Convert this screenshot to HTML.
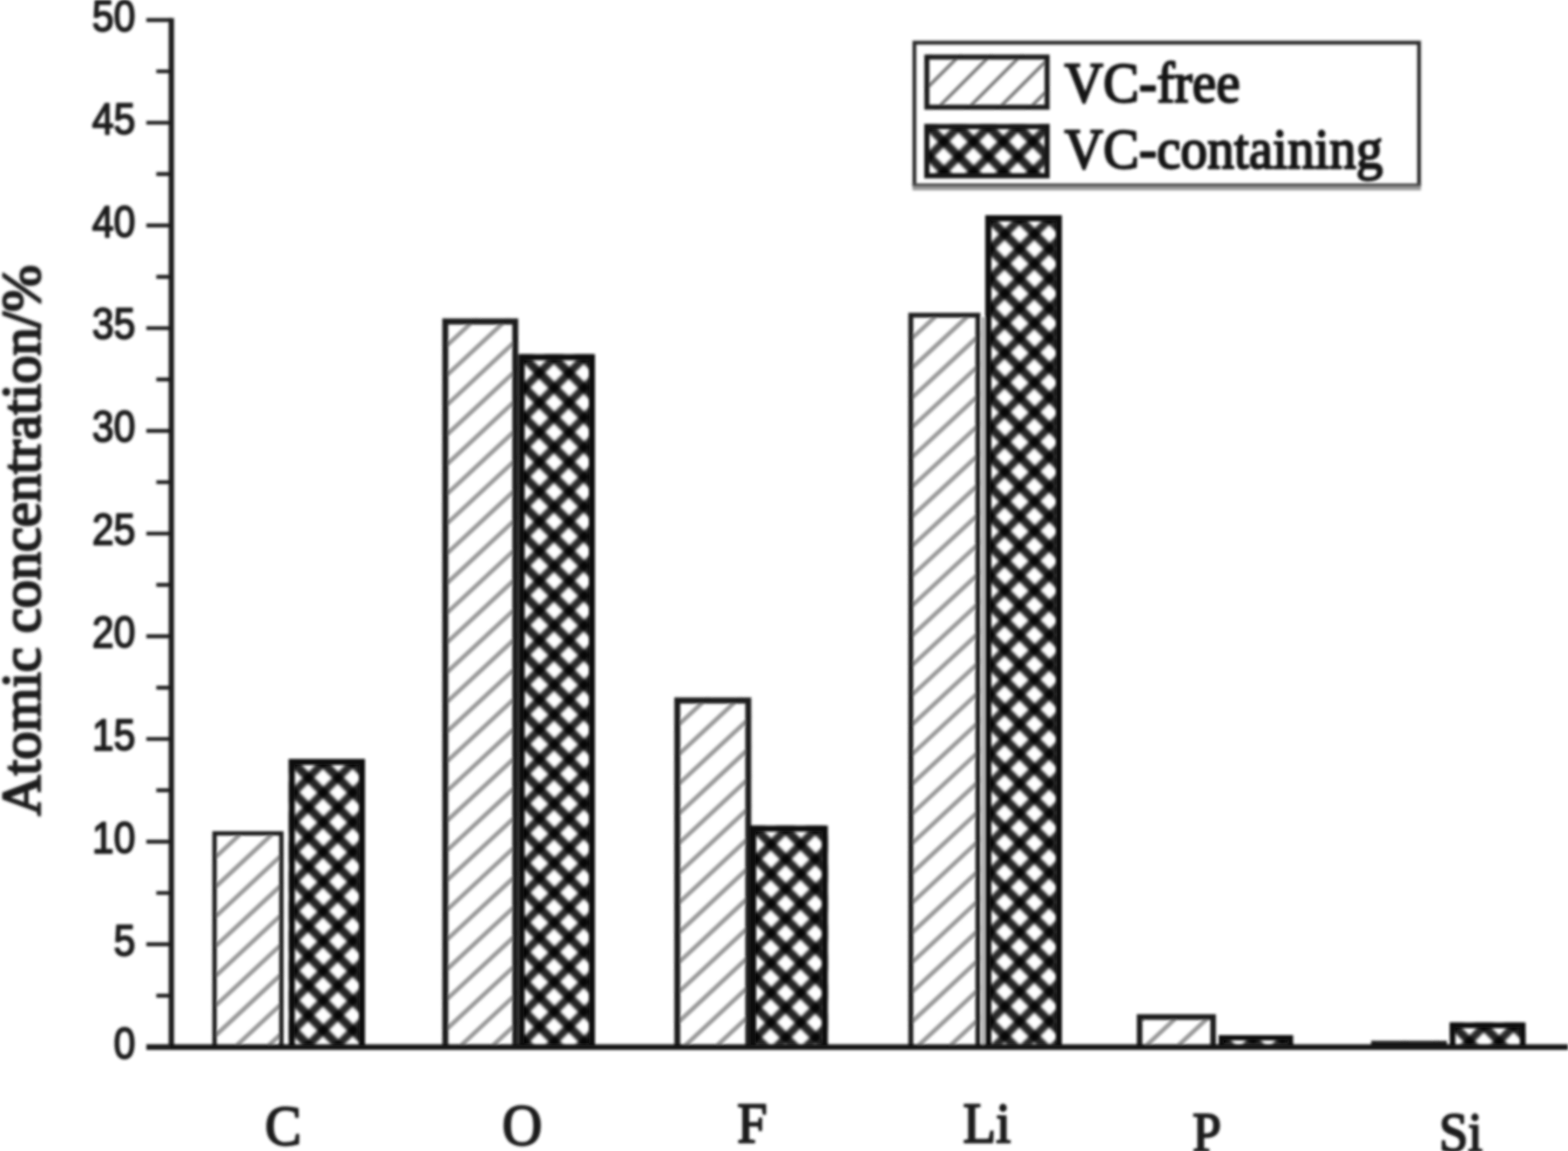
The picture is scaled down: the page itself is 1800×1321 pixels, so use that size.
<!DOCTYPE html>
<html lang="en"><head><meta charset="utf-8"><title>Atomic concentration</title>
<style>
html,body{margin:0;padding:0;background:#fff;}
body{width:1800px;height:1321px;overflow:hidden;}
svg{display:block;}
.sans{font-family:"Liberation Sans",Arial,Helvetica,sans-serif;}
.serif{font-family:"Liberation Serif","Times New Roman",Times,serif;}
</style></head><body>
<svg width="1800" height="1321" viewBox="0 0 1800 1321">
<defs><filter id="bl" x="-5%" y="-5%" width="110%" height="110%"><feGaussianBlur stdDeviation="1.8"/></filter><filter id="bx" x="-20%" y="-20%" width="140%" height="140%"><feGaussianBlur stdDeviation="1.3"/></filter></defs>
<rect x="0" y="0" width="1800" height="1321" fill="#fff"/>
<g filter="url(#bl)">
<path d="M1128.6 364L1128.6 1201.7" stroke="#a6a6a6" stroke-width="3.2" fill="none"/>
<clipPath id="c0"><rect x="243.8" y="954.0" width="81.7" height="247.7"/></clipPath>
<g clip-path="url(#c0)">
<path d="M238.8 957.6L330.5 872.4M238.8 991.8L330.5 906.5M238.8 1025.9L330.5 940.6M238.8 1060.0L330.5 974.7M238.8 1094.1L330.5 1008.8M238.8 1128.2L330.5 1042.9M238.8 1162.2L330.5 1077.0M238.8 1196.4L330.5 1111.1M238.8 1230.5L330.5 1145.2M238.8 1264.6L330.5 1179.3M238.8 1298.7L330.5 1213.4" stroke="#9a9a9a" stroke-width="5.0" fill="none"/>
</g>
<path d="M246.3 1201.7L246.3 956.5L323.0 956.5L323.0 1201.7" fill="none" stroke="#1c1c1c" stroke-width="5.0" stroke-linejoin="miter"/>
<clipPath id="c1"><rect x="331.5" y="871.1" width="87.5" height="330.6"/></clipPath>
<g clip-path="url(#c1)">
<g filter="url(#bx)"><path d="M326.5 817.8L424.0 720.2M326.5 851.9L424.0 754.4M326.5 886.0L424.0 788.5M326.5 920.1L424.0 822.6M326.5 954.1L424.0 856.6M326.5 988.2L424.0 890.8M326.5 1022.4L424.0 924.9M326.5 1056.5L424.0 959.0M326.5 1090.5L424.0 993.0M326.5 1124.7L424.0 1027.2M326.5 1158.8L424.0 1061.2M326.5 1192.8L424.0 1095.3M326.5 1227.0L424.0 1129.5M326.5 1261.1L424.0 1163.6M326.5 1295.2L424.0 1197.7" stroke="#000" stroke-opacity="0.84" stroke-width="9.0" fill="none"/>
<path d="M326.5 1274.4L424.0 1371.9M326.5 1240.2L424.0 1337.8M326.5 1206.2L424.0 1303.7M326.5 1172.0L424.0 1269.5M326.5 1138.0L424.0 1235.5M326.5 1103.8L424.0 1201.3M326.5 1069.8L424.0 1167.2M326.5 1035.7L424.0 1133.2M326.5 1001.5L424.0 1099.0M326.5 967.5L424.0 1065.0M326.5 933.4L424.0 1030.8M326.5 899.2L424.0 996.8M326.5 865.1L424.0 962.6M326.5 831.1L424.0 928.6M326.5 797.0L424.0 894.5M326.5 762.9L424.0 860.4" stroke="#000" stroke-opacity="0.86" stroke-width="9.8" fill="none"/></g>
</g>
<path d="M335.0 1201.7L335.0 874.6L415.5 874.6L415.5 1201.7" fill="none" stroke="#111" stroke-width="7.0" stroke-linejoin="miter"/>
<clipPath id="c2"><rect x="507.8" y="365.6" width="87.1" height="836.1"/></clipPath>
<g clip-path="url(#c2)">
<path d="M502.8 371.9L599.9 281.6M502.8 406.1L599.9 315.7M502.8 440.1L599.9 349.8M502.8 474.2L599.9 383.9M502.8 508.4L599.9 418.0M502.8 542.4L599.9 452.1M502.8 576.5L599.9 486.2M502.8 610.6L599.9 520.3M502.8 644.8L599.9 554.4M502.8 678.9L599.9 588.5M502.8 713.0L599.9 622.6M502.8 747.1L599.9 656.7M502.8 781.2L599.9 690.8M502.8 815.3L599.9 724.9M502.8 849.4L599.9 759.0M502.8 883.5L599.9 793.1M502.8 917.6L599.9 827.2M502.8 951.7L599.9 861.3M502.8 985.8L599.9 895.4M502.8 1019.9L599.9 929.5M502.8 1054.0L599.9 963.6M502.8 1088.1L599.9 997.7M502.8 1122.2L599.9 1031.8M502.8 1156.3L599.9 1065.9M502.8 1190.4L599.9 1100.0M502.8 1224.5L599.9 1134.1M502.8 1258.6L599.9 1168.2M502.8 1292.7L599.9 1202.3M502.8 1326.8L599.9 1236.4" stroke="#9a9a9a" stroke-width="5.0" fill="none"/>
</g>
<path d="M511.2 1201.7L511.2 369.0L591.5 369.0L591.5 1201.7" fill="none" stroke="#1c1c1c" stroke-width="6.8" stroke-linejoin="miter"/>
<clipPath id="c3"><rect x="596.7" y="406.5" width="86.3" height="795.2"/></clipPath>
<g clip-path="url(#c3)">
<g filter="url(#bx)"><path d="M591.7 353.1L688.0 256.9M591.7 387.2L688.0 291.0M591.7 421.4L688.0 325.1M591.7 455.4L688.0 359.2M591.7 489.6L688.0 393.3M591.7 523.6L688.0 427.4M591.7 557.8L688.0 461.5M591.7 591.9L688.0 495.6M591.7 626.0L688.0 529.7M591.7 660.0L688.0 563.8M591.7 694.1L688.0 597.9M591.7 728.2L688.0 632.0M591.7 762.4L688.0 666.1M591.7 796.5L688.0 700.2M591.7 830.6L688.0 734.3M591.7 864.7L688.0 768.4M591.7 898.8L688.0 802.5M591.7 932.9L688.0 836.6M591.7 967.0L688.0 870.7M591.7 1001.1L688.0 904.8M591.7 1035.2L688.0 938.9M591.7 1069.3L688.0 973.0M591.7 1103.4L688.0 1007.1M591.7 1137.5L688.0 1041.2M591.7 1171.6L688.0 1075.3M591.7 1205.7L688.0 1109.4M591.7 1239.8L688.0 1143.5M591.7 1273.9L688.0 1177.6M591.7 1308.0L688.0 1211.7" stroke="#000" stroke-opacity="0.84" stroke-width="9.0" fill="none"/>
<path d="M591.7 1287.2L688.0 1383.4M591.7 1253.0L688.0 1349.3M591.7 1218.9L688.0 1315.2M591.7 1184.8L688.0 1281.1M591.7 1150.8L688.0 1247.0M591.7 1116.6L688.0 1212.9M591.7 1082.5L688.0 1178.8M591.7 1048.4L688.0 1144.7M591.7 1014.3L688.0 1110.6M591.7 980.2L688.0 1076.5M591.7 946.1L688.0 1042.4M591.7 912.0L688.0 1008.3M591.7 877.9L688.0 974.2M591.7 843.8L688.0 940.1M591.7 809.7L688.0 906.0M591.7 775.6L688.0 871.9M591.7 741.5L688.0 837.8M591.7 707.4L688.0 803.7M591.7 673.3L688.0 769.6M591.7 639.2L688.0 735.5M591.7 605.1L688.0 701.4M591.7 571.0L688.0 667.3M591.7 536.9L688.0 633.2M591.7 502.8L688.0 599.1M591.7 468.7L688.0 565.0M591.7 434.6L688.0 530.9M591.7 400.5L688.0 496.8M591.7 366.4L688.0 462.7M591.7 332.3L688.0 428.6M591.7 298.2L688.0 394.5" stroke="#000" stroke-opacity="0.86" stroke-width="9.8" fill="none"/></g>
</g>
<path d="M598.8 1201.7L598.8 410.0L679.5 410.0L679.5 1201.7" fill="none" stroke="#111" stroke-width="7.0" stroke-linejoin="miter"/>
<clipPath id="c4"><rect x="774.1" y="800.6" width="88.3" height="401.1"/></clipPath>
<g clip-path="url(#c4)">
<path d="M769.1 807.0L867.4 715.5M769.1 841.0L867.4 749.6M769.1 875.1L867.4 783.7M769.1 909.2L867.4 817.8M769.1 943.4L867.4 851.9M769.1 977.4L867.4 886.0M769.1 1011.5L867.4 920.1M769.1 1045.7L867.4 954.2M769.1 1079.8L867.4 988.3M769.1 1113.9L867.4 1022.4M769.1 1148.0L867.4 1056.5M769.1 1182.1L867.4 1090.6M769.1 1216.2L867.4 1124.7M769.1 1250.3L867.4 1158.8M769.1 1284.4L867.4 1192.9M769.1 1318.5L867.4 1227.0" stroke="#9a9a9a" stroke-width="5.0" fill="none"/>
</g>
<path d="M777.5 1201.7L777.5 804.0L859.0 804.0L859.0 1201.7" fill="none" stroke="#1c1c1c" stroke-width="6.8" stroke-linejoin="miter"/>
<clipPath id="c5"><rect x="862.5" y="947.5" width="87.8" height="254.2"/></clipPath>
<g clip-path="url(#c5)">
<g filter="url(#bx)"><path d="M857.5 894.1L955.3 796.4M857.5 928.2L955.3 830.5M857.5 962.4L955.3 864.6M857.5 996.5L955.3 898.7M857.5 1030.5L955.3 932.8M857.5 1064.7L955.3 966.9M857.5 1098.8L955.3 1001.0M857.5 1132.8L955.3 1035.0M857.5 1167.0L955.3 1069.2M857.5 1201.0L955.3 1103.2M857.5 1235.2L955.3 1137.4M857.5 1269.2L955.3 1171.5M857.5 1303.3L955.3 1205.5" stroke="#000" stroke-opacity="0.84" stroke-width="9.0" fill="none"/>
<path d="M857.5 1282.5L955.3 1380.3M857.5 1248.5L955.3 1346.2M857.5 1214.3L955.3 1312.1M857.5 1180.2L955.3 1278.0M857.5 1146.2L955.3 1243.9M857.5 1112.0L955.3 1209.8M857.5 1078.0L955.3 1175.8M857.5 1043.8L955.3 1141.6M857.5 1009.8L955.3 1107.5M857.5 975.6L955.3 1073.5M857.5 941.5L955.3 1039.3M857.5 907.5L955.3 1005.2M857.5 873.4L955.3 971.1M857.5 839.2L955.3 937.0" stroke="#000" stroke-opacity="0.86" stroke-width="9.8" fill="none"/></g>
</g>
<path d="M864.6 1201.7L864.6 951.0L946.8 951.0L946.8 1201.7" fill="none" stroke="#111" stroke-width="7.0" stroke-linejoin="miter"/>
<clipPath id="c6"><rect x="1042.8" y="358.9" width="82.6" height="842.8"/></clipPath>
<g clip-path="url(#c6)">
<path d="M1037.8 362.7L1130.4 276.6M1037.8 396.8L1130.4 310.7M1037.8 430.9L1130.4 344.8M1037.8 465.0L1130.4 378.9M1037.8 499.1L1130.4 413.0M1037.8 533.2L1130.4 447.1M1037.8 567.3L1130.4 481.2M1037.8 601.4L1130.4 515.3M1037.8 635.5L1130.4 549.4M1037.8 669.6L1130.4 583.5M1037.8 703.8L1130.4 617.6M1037.8 737.9L1130.4 651.7M1037.8 772.0L1130.4 685.8M1037.8 806.1L1130.4 719.9M1037.8 840.2L1130.4 754.0M1037.8 874.3L1130.4 788.1M1037.8 908.4L1130.4 822.2M1037.8 942.5L1130.4 856.3M1037.8 976.6L1130.4 890.4M1037.8 1010.7L1130.4 924.5M1037.8 1044.8L1130.4 958.6M1037.8 1078.9L1130.4 992.7M1037.8 1113.0L1130.4 1026.8M1037.8 1147.1L1130.4 1060.9M1037.8 1181.2L1130.4 1095.0M1037.8 1215.3L1130.4 1129.1M1037.8 1249.4L1130.4 1163.2M1037.8 1283.5L1130.4 1197.3M1037.8 1317.6L1130.4 1231.4" stroke="#9a9a9a" stroke-width="5.0" fill="none"/>
</g>
<path d="M1045.6 1201.7L1045.6 361.7L1122.6 361.7L1122.6 1201.7" fill="none" stroke="#1c1c1c" stroke-width="5.6" stroke-linejoin="miter"/>
<clipPath id="c7"><rect x="1131.0" y="247.1" width="88.0" height="954.6"/></clipPath>
<g clip-path="url(#c7)">
<g filter="url(#bx)"><path d="M1126.0 193.8L1224.0 95.8M1126.0 227.8L1224.0 129.8M1126.0 261.9L1224.0 163.9M1126.0 296.1L1224.0 198.1M1126.0 330.1L1224.0 232.1M1126.0 364.2L1224.0 266.2M1126.0 398.4L1224.0 300.4M1126.0 432.4L1224.0 334.4M1126.0 466.5L1224.0 368.5M1126.0 500.6L1224.0 402.6M1126.0 534.8L1224.0 436.8M1126.0 568.9L1224.0 470.9M1126.0 603.0L1224.0 505.0M1126.0 637.1L1224.0 539.1M1126.0 671.2L1224.0 573.2M1126.0 705.3L1224.0 607.3M1126.0 739.4L1224.0 641.4M1126.0 773.5L1224.0 675.5M1126.0 807.6L1224.0 709.6M1126.0 841.7L1224.0 743.7M1126.0 875.8L1224.0 777.8M1126.0 909.9L1224.0 811.9M1126.0 944.0L1224.0 846.0M1126.0 978.1L1224.0 880.1M1126.0 1012.2L1224.0 914.2M1126.0 1046.3L1224.0 948.3M1126.0 1080.4L1224.0 982.4M1126.0 1114.5L1224.0 1016.5M1126.0 1148.6L1224.0 1050.6M1126.0 1182.7L1224.0 1084.7M1126.0 1216.8L1224.0 1118.8M1126.0 1250.9L1224.0 1152.9M1126.0 1285.0L1224.0 1187.0M1126.0 1319.1L1224.0 1221.1" stroke="#000" stroke-opacity="0.84" stroke-width="9.0" fill="none"/>
<path d="M1126.0 1264.1L1224.0 1362.2M1126.0 1230.0L1224.0 1328.0M1126.0 1195.9L1224.0 1293.9M1126.0 1161.8L1224.0 1259.8M1126.0 1127.7L1224.0 1225.8M1126.0 1093.6L1224.0 1191.6M1126.0 1059.5L1224.0 1157.5M1126.0 1025.4L1224.0 1123.4M1126.0 991.3L1224.0 1089.3M1126.0 957.2L1224.0 1055.2M1126.0 923.1L1224.0 1021.1M1126.0 889.0L1224.0 987.0M1126.0 854.9L1224.0 952.9M1126.0 820.8L1224.0 918.8M1126.0 786.7L1224.0 884.7M1126.0 752.6L1224.0 850.6M1126.0 718.5L1224.0 816.5M1126.0 684.4L1224.0 782.4M1126.0 650.3L1224.0 748.3M1126.0 616.2L1224.0 714.2M1126.0 582.1L1224.0 680.1M1126.0 548.0L1224.0 646.0M1126.0 513.9L1224.0 611.9M1126.0 479.8L1224.0 577.8M1126.0 445.7L1224.0 543.7M1126.0 411.6L1224.0 509.6M1126.0 377.5L1224.0 475.5M1126.0 343.4L1224.0 441.4M1126.0 309.3L1224.0 407.3M1126.0 275.2L1224.0 373.2M1126.0 241.1L1224.0 339.1M1126.0 207.0L1224.0 305.0M1126.0 172.9L1224.0 270.9M1126.0 138.8L1224.0 236.8" stroke="#000" stroke-opacity="0.86" stroke-width="9.8" fill="none"/></g>
</g>
<path d="M1134.5 1201.7L1134.5 250.6L1215.5 250.6L1215.5 1201.7" fill="none" stroke="#111" stroke-width="7.0" stroke-linejoin="miter"/>
<clipPath id="c8"><rect x="1305.0" y="1164.0" width="90.8" height="37.7"/></clipPath>
<g clip-path="url(#c8)">
<path d="M1300.0 1180.7L1400.8 1086.9M1300.0 1214.8L1400.8 1121.0M1300.0 1248.9L1400.8 1155.1M1300.0 1283.0L1400.8 1189.2M1300.0 1317.1L1400.8 1223.3" stroke="#9a9a9a" stroke-width="5.0" fill="none"/>
</g>
<path d="M1308.2 1201.7L1308.2 1167.2L1392.6 1167.2L1392.6 1201.7" fill="none" stroke="#1c1c1c" stroke-width="6.4" stroke-linejoin="miter"/>
<clipPath id="c9"><rect x="1399.0" y="1188.0" width="85.5" height="13.7"/></clipPath>
<g clip-path="url(#c9)">
<g filter="url(#bx)"><path d="M1394.0 1134.7L1489.5 1039.2M1394.0 1168.8L1489.5 1073.2M1394.0 1202.8L1489.5 1107.3M1394.0 1237.0L1489.5 1141.5M1394.0 1271.0L1489.5 1175.5M1394.0 1305.2L1489.5 1209.7" stroke="#000" stroke-opacity="0.84" stroke-width="9.0" fill="none"/>
<path d="M1394.0 1284.3L1489.5 1379.8M1394.0 1250.2L1489.5 1345.8M1394.0 1216.2L1489.5 1311.7M1394.0 1182.0L1489.5 1277.5M1394.0 1148.0L1489.5 1243.5M1394.0 1113.8L1489.5 1209.3M1394.0 1079.8L1489.5 1175.2" stroke="#000" stroke-opacity="0.86" stroke-width="9.8" fill="none"/></g>
</g>
<path d="M1402.0 1201.7L1402.0 1191.0L1481.5 1191.0L1481.5 1201.7" fill="none" stroke="#111" stroke-width="6.0" stroke-linejoin="miter"/>
<clipPath id="c10"><rect x="1574.0" y="1194.5" width="87.0" height="7.2"/></clipPath>
<g clip-path="url(#c10)">
<path d="M1569.0 1200.9L1666.0 1110.6M1569.0 1235.0L1666.0 1144.7M1569.0 1269.1L1666.0 1178.8M1569.0 1303.2L1666.0 1212.9" stroke="#9a9a9a" stroke-width="5.0" fill="none"/>
</g>
<path d="M1576.5 1201.7L1576.5 1197.0L1658.5 1197.0L1658.5 1201.7" fill="none" stroke="#1c1c1c" stroke-width="5.0" stroke-linejoin="miter"/>
<clipPath id="c11"><rect x="1664.2" y="1173.5" width="87.0" height="28.2"/></clipPath>
<g clip-path="url(#c11)">
<g filter="url(#bx)"><path d="M1659.2 1120.2L1756.2 1023.2M1659.2 1154.3L1756.2 1057.3M1659.2 1188.4L1756.2 1091.4M1659.2 1222.5L1756.2 1125.5M1659.2 1256.6L1756.2 1159.6M1659.2 1290.7L1756.2 1193.7M1659.2 1324.8L1756.2 1227.8" stroke="#000" stroke-opacity="0.84" stroke-width="9.0" fill="none"/>
<path d="M1659.2 1269.9L1756.2 1366.9M1659.2 1235.8L1756.2 1332.8M1659.2 1201.7L1756.2 1298.7M1659.2 1167.6L1756.2 1264.6M1659.2 1133.5L1756.2 1230.5M1659.2 1099.4L1756.2 1196.4M1659.2 1065.3L1756.2 1162.3" stroke="#000" stroke-opacity="0.86" stroke-width="9.8" fill="none"/></g>
</g>
<path d="M1667.5 1201.7L1667.5 1176.8L1748.0 1176.8L1748.0 1201.7" fill="none" stroke="#111" stroke-width="6.5" stroke-linejoin="miter"/>
<path d="M196.7 20.8L196.7 1204.3" stroke="#1c1c1c" stroke-width="6.2" fill="none"/>
<path d="M168 1201.7L1800 1201.7" stroke="#121212" stroke-width="6.4" fill="none"/>
<path d="M168 1201.7L196.7 1201.7M179.5 1142.8L196.7 1142.8M168 1083.8L196.7 1083.8M179.5 1024.9L196.7 1024.9M168 966.0L196.7 966.0M179.5 907.0L196.7 907.0M168 848.1L196.7 848.1M179.5 789.2L196.7 789.2M168 730.2L196.7 730.2M179.5 671.3L196.7 671.3M168 612.4L196.7 612.4M179.5 553.4L196.7 553.4M168 494.5L196.7 494.5M179.5 435.5L196.7 435.5M168 376.6L196.7 376.6M179.5 317.7L196.7 317.7M168 258.7L196.7 258.7M179.5 199.8L196.7 199.8M168 140.9L196.7 140.9M179.5 81.9L196.7 81.9M168 23.0L196.7 23.0" stroke="#1c1c1c" stroke-width="4.4" fill="none"/>
<g class="sans" font-size="44.8" fill="#1c1c1c" stroke="#1c1c1c" stroke-width="1.7" stroke-linejoin="round" text-anchor="end">
<text transform="translate(155.5 1214.5) scale(1 1.1)">0</text>
<text transform="translate(155.5 1096.6) scale(1 1.1)">5</text>
<text transform="translate(155.5 978.8) scale(1 1.1)">10</text>
<text transform="translate(155.5 860.9) scale(1 1.1)">15</text>
<text transform="translate(155.5 743.0) scale(1 1.1)">20</text>
<text transform="translate(155.5 625.1) scale(1 1.1)">25</text>
<text transform="translate(155.5 507.3) scale(1 1.1)">30</text>
<text transform="translate(155.5 389.4) scale(1 1.1)">35</text>
<text transform="translate(155.5 271.5) scale(1 1.1)">40</text>
<text transform="translate(155.5 153.7) scale(1 1.1)">45</text>
<text transform="translate(155.5 35.8) scale(1 1.1)">50</text>
</g>
<text class="serif" font-size="64.5" fill="#1c1c1c" stroke="#1c1c1c" stroke-width="2.6" stroke-linejoin="round" transform="translate(45.6 936.3) rotate(-90) scale(1 0.98)">Atomic concentration/%</text>
<g class="serif" fill="#1c1c1c" stroke="#1c1c1c" stroke-width="2.2" stroke-linejoin="round" text-anchor="middle">
<text font-size="62.5" transform="translate(325.0 1314.0) scale(1 1.06)">C</text>
<text font-size="63.5" transform="translate(599.5 1314.0) scale(1 1.06)">O</text>
<text font-size="62.0" transform="translate(863.5 1310.5) scale(1 1.06)">F</text>
<text font-size="62.0" transform="translate(1133.0 1310.5) scale(1 1.06)">Li</text>
<text font-size="59.0" transform="translate(1385.5 1321.0) scale(1 1.06)">P</text>
<text font-size="60.0" transform="translate(1677.0 1320.5) scale(1 1.06)">Si</text>
</g>
<path d="M1049.7 214L1049.7 49L1629 49L1629 214" fill="none" stroke="#2a2a2a" stroke-width="4.4"/>
<path d="M1047.5 215.6L1631.2 215.6" fill="none" stroke="#9a9a9a" stroke-width="6"/>
<path d="M1047.5 212.3L1631.2 212.3" fill="none" stroke="#4a4a4a" stroke-width="3.4"/>
<clipPath id="l0"><rect x="1061.0" y="62.5" width="144.0" height="63.5"/></clipPath>
<g clip-path="url(#l0)">
<path d="M1056.0 74.0L1210.0 -80.0M1056.0 109.2L1210.0 -44.8M1056.0 144.4L1210.0 -9.6M1056.0 179.6L1210.0 25.6M1056.0 214.8L1210.0 60.8M1056.0 250.0L1210.0 96.0M1056.0 285.2L1210.0 131.2" stroke="#808080" stroke-width="4.0" fill="none"/>
</g>
<rect x="1064" y="65.5" width="138" height="57.5" fill="none" stroke="#1c1c1c" stroke-width="5.8"/>
<clipPath id="l1"><rect x="1061.0" y="142.5" width="144.0" height="61.5"/></clipPath>
<g clip-path="url(#l1)">
<g filter="url(#bx)"><path d="M1056.0 87.6L1210.0 -66.4M1056.0 121.8L1210.0 -32.2M1056.0 155.8L1210.0 1.8M1056.0 189.9L1210.0 35.9M1056.0 224.1L1210.0 70.1M1056.0 258.1L1210.0 104.2M1056.0 292.2L1210.0 138.2M1056.0 326.4L1210.0 172.4M1056.0 360.4L1210.0 206.4" stroke="#000" stroke-opacity="0.84" stroke-width="9.0" fill="none"/>
<path d="M1056.0 271.5L1210.0 425.5M1056.0 237.4L1210.0 391.4M1056.0 203.3L1210.0 357.2M1056.0 169.2L1210.0 323.2M1056.0 135.1L1210.0 289.1M1056.0 101.0L1210.0 255.0M1056.0 66.9L1210.0 220.9M1056.0 32.8L1210.0 186.8M1056.0 -1.3L1210.0 152.7M1056.0 -35.4L1210.0 118.6" stroke="#000" stroke-opacity="0.86" stroke-width="9.8" fill="none"/></g>
</g>
<rect x="1064" y="145.3" width="138" height="56.4" fill="none" stroke="#151515" stroke-width="6"/>
<g class="serif" font-size="61.5" fill="#141414" stroke="#141414" stroke-width="2.3" stroke-linejoin="round">
<text transform="translate(1222 116.5) scale(1 1.05)">VC-free</text>
<text transform="translate(1222 193) scale(1 1.05)">VC-containing</text>
</g>
</g>
</svg>
</body></html>
